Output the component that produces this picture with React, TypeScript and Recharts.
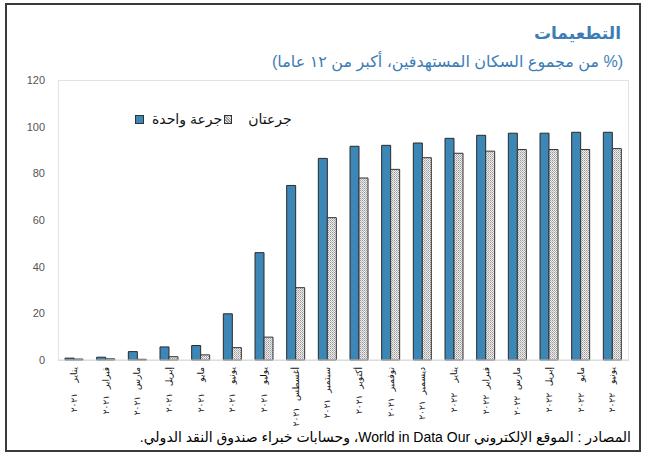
import React from "react";
import { BarChart, Bar, XAxis, YAxis } from "recharts";

const months = [
  "يناير", "فبراير", "مارس", "إبريل", "مايو", "يونيو", "يوليو", "أغسطس", "سبتمبر",
  "أكتوبر", "نوفمبر", "ديسمبر", "يناير", "فبراير", "مارس", "إبريل", "مايو", "يونيو",
];
const years = [
  "٢٠٢١", "٢٠٢١", "٢٠٢١", "٢٠٢١", "٢٠٢١", "٢٠٢١", "٢٠٢١", "٢٠٢١", "٢٠٢١",
  "٢٠٢١", "٢٠٢١", "٢٠٢١", "٢٠٢٢", "٢٠٢٢", "٢٠٢٢", "٢٠٢٢", "٢٠٢٢", "٢٠٢٢",
];
const oneDose = [0.8, 1.2, 3.6, 5.6, 6.2, 19.8, 46, 74.8, 86.4, 91.6, 92, 93, 95, 96.3, 97.2, 97.2, 97.6, 97.6];
const twoDoses = [0.4, 0.5, 0.3, 1.4, 2.2, 5.3, 9.8, 31, 61, 78, 81.7, 86.7, 88.6, 89.5, 90.2, 90.2, 90.2, 90.6];
const yTicks = [0, 20, 40, 60, 80, 100, 120];

const data = months.map((m, i) => ({
  key: i,
  month: m,
  year: years[i],
  one: oneDose[i],
  two: twoDoses[i],
}));

const BLUE = "#3d87b6";
const FONT = "Arial, 'DejaVu Sans', sans-serif";

let ctx: CanvasRenderingContext2D | null = null;
function measure(t: string, size: number) {
  if (!ctx) {
    const c = document.createElement("canvas");
    ctx = c.getContext("2d");
  }
  if (!ctx) return t.length * size * 0.5;
  ctx.font = `${size}px ${FONT}`;
  return ctx.measureText(t).width;
}

const XTick = (props: any) => {
  const { x, payload } = props;
  const d = data[payload.value];
  if (!d) return null;
  const top = 367;
  const w = measure(d.month, 9);
  const yearTop = Math.max(393, top + w + 6);
  return (
    <g>
      <text
        x={x}
        y={top}
        transform={`rotate(-90 ${x} ${top})`}
        textAnchor="end"
        dy="0.35em"
        fontSize={9}
        fontFamily={FONT}
        fill="#111"
      >
        {d.month}
      </text>
      <text
        x={x}
        y={yearTop}
        transform={`rotate(-90 ${x} ${yearTop})`}
        textAnchor="end"
        dy="0.35em"
        fontSize={9}
        fontFamily={FONT}
        fill="#111"
      >
        {d.year}
      </text>
    </g>
  );
};

export default function App() {
  return (
    <div
      style={{
        position: "absolute",
        left: 0,
        top: 0,
        width: 645,
        height: 454,
        background: "#fff",
        fontFamily: FONT,
      }}
    >
      <div
        style={{
          position: "absolute",
          left: 5,
          top: 3,
          width: 632,
          height: 445,
          border: "2px solid #3a3a3a",
        }}
      />
      <div
        style={{
          position: "absolute",
          left: 58,
          top: 80,
          width: 569,
          height: 279,
          border: "1px solid #e2e2e2",
        }}
      />
      <div
        dir="rtl"
        style={{
          position: "absolute",
          right: 24,
          top: 23,
          fontSize: 17,
          fontWeight: "bold",
          color: "#3d7db5",
          whiteSpace: "nowrap",
        }}
      >
        التطعيمات
      </div>
      <div
        dir="rtl"
        style={{
          position: "absolute",
          right: 22,
          top: 52,
          fontSize: 16,
          color: "#3d7db5",
          whiteSpace: "nowrap",
        }}
      >
        (% من مجموع السكان المستهدفين، أكبر من ١٢ عاما)
      </div>
      <div
        dir="rtl"
        style={{
          position: "absolute",
          right: 14,
          top: 429,
          fontSize: 14,
          color: "#000",
          whiteSpace: "nowrap",
        }}
      >
        المصادر : الموقع الإلكتروني World in Data Our، وحسابات خبراء صندوق النقد الدولي.
      </div>
      <BarChart
        width={645}
        height={454}
        data={data}
        margin={{ top: 80, right: 17, bottom: 0, left: 0 }}
        barGap={0}
        barCategoryGap="20%"
        style={{ position: "absolute", left: 0, top: 0 }}
      >
        <defs>
          <pattern id="dots" width="2" height="2" patternUnits="userSpaceOnUse">
            <rect width="2" height="2" fill="#eeeeee" />
            <rect width="1" height="1" fill="#9a9a9a" />
            <rect x="1" y="1" width="1" height="1" fill="#b8b8b8" />
          </pattern>
        </defs>
        <XAxis
          dataKey="key"
          interval={0}
          tick={<XTick />}
          tickLine={false}
          axisLine={{ stroke: "#d8d8d8" }}
          height={94}
        />
        <YAxis
          domain={[0, 120]}
          ticks={yTicks}
          width={58}
          axisLine={false}
          tickLine={false}
          tickMargin={7}
          tick={{ fontSize: 11, fill: "#555", fontFamily: FONT }}
        />
        <Bar dataKey="one" fill={BLUE} stroke="#2a2a2a" strokeWidth={1} barSize={9} isAnimationActive={false} />
        <Bar dataKey="two" fill="url(#dots)" stroke="#333" strokeWidth={1} barSize={9} isAnimationActive={false} />
      </BarChart>
      <div
        style={{
          position: "absolute",
          left: 135,
          top: 110,
          height: 18,
          display: "flex",
          alignItems: "center",
          fontSize: 14,
          color: "#111",
          whiteSpace: "nowrap",
        }}
      >
        <span style={{ width: 7, height: 7, background: BLUE, border: "1px solid #333", display: "inline-block" }} />
        <span dir="rtl" style={{ marginLeft: 8 }}>جرعة واحدة</span>
        <span
          style={{
            width: 6,
            height: 7,
            background: "repeating-linear-gradient(45deg,#999 0 1px,#eee 1px 2px)",
            border: "1px solid #333",
            display: "inline-block",
            marginLeft: 2,
          }}
        />
        <span dir="rtl" style={{ marginLeft: 16 }}>جرعتان</span>
      </div>
    </div>
  );
}
